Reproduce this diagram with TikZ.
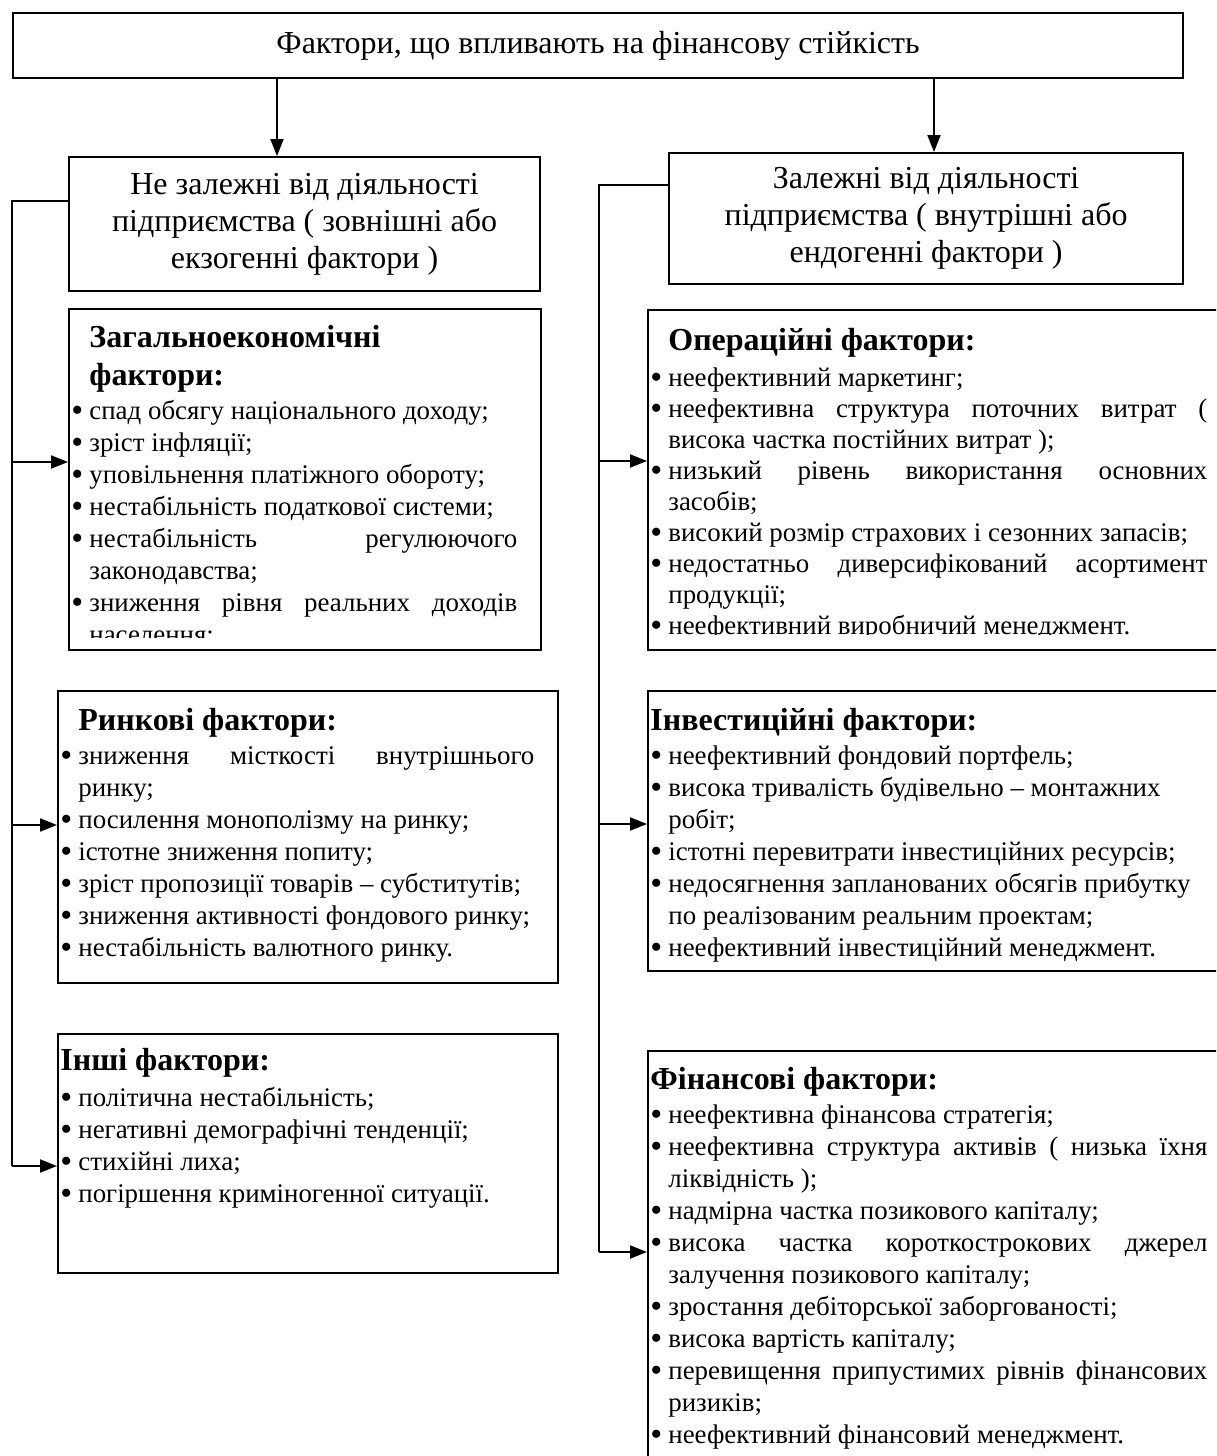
\documentclass[tikz,border=0pt]{standalone}
\usepackage{fontspec}
\setmainfont{Liberation Serif}
\usetikzlibrary{positioning,arrows.meta}

\hyphenpenalty=10000
\exhyphenpenalty=10000
\tolerance=9999
\newcommand{\itm}{\par\noindent\hangindent=9pt\hangafter=1\makebox[9pt][l]{\raisebox{-0.8pt}{\fontsize{17}{16}\selectfont\textbullet}}\ignorespaces}
\newcommand{\hd}[3][1pt]{{\raggedright\leftskip=#2\fontsize{16}{19}\selectfont\bfseries #3\par}\vspace{#1}}

\begin{document}
\begin{tikzpicture}[x=0.5pt, y=-0.5pt,
  frame/.style={draw, line width=1.1pt, anchor=north west, inner sep=0pt, align=center},
  list/.style={anchor=base west, inner sep=0pt, text width=#1, align=justify, font=\fontsize{13.45}{16}\selectfont},
  link/.style={line width=1pt},
  arr/.style={line width=1pt, -{Triangle[length=8.5pt, width=6.5pt]}}]
\useasboundingbox (0,0) rectangle (1216,1456);
\clip (0,0) rectangle (1216,1456);

\node[frame, minimum width=585pt, minimum height=32.5pt, font=\fontsize{16}{19}\selectfont] (root) at (12,12) {Фактори, що впливають на фінансову стійкість};
\node[frame, minimum width=235.5pt, minimum height=67pt, font=\fontsize{16}{18.5}\selectfont] (ext) at (68,156) {Не залежні від діяльності\\підприємства ( зовнішні або\\екзогенні фактори )};
\node[frame, minimum width=257pt, minimum height=65.5pt, font=\fontsize{16}{18.5}\selectfont] (int) at (668,152) {Залежні від діяльності\\підприємства ( внутрішні або\\ендогенні фактори )};

\node[frame, minimum width=236pt, minimum height=170.5pt] (gen) at (68,308) {};
\node[frame, minimum width=296.5pt, minimum height=170pt] (oper) at (647,309) {};
\node[frame, minimum width=250pt, minimum height=146pt] (mkt) at (57,690) {};
\node[frame, minimum width=296.5pt, minimum height=140pt] (inv) at (647,690) {};
\node[frame, minimum width=250pt, minimum height=119.5pt] (oth) at (57,1033) {};
\node[frame, minimum width=296.5pt, minimum height=215pt] (fin) at (647,1050) {};

\begin{scope}
\clip (gen.north west) rectangle (540,637);
\node[list=223pt] (gentxt) at (71,347.5) {\hd{9pt}{Загальноекономічні\\фактори:}
\itm спад обсягу національного доходу;
\itm зріст інфляції;
\itm уповільнення платіжного обороту;
\itm нестабільність податкової системи;
\itm нестабільність регулюючого\break законодавства;
\itm зниження рівня реальних доходів\break населення;\par};
\end{scope}
\begin{scope}
\clip (oper.north west) rectangle (1216,634);
\node[list=278.5pt, font=\fontsize{13.45}{15.5}\selectfont] (opertxt) at (650,350.5) {\hd[2.5pt]{9pt}{Операційні фактори:}
\itm неефективний маркетинг;
\itm неефективна структура поточних витрат (\break висока частка постійних витрат );
\itm низький рівень використання основних\break засобів;
\itm високий розмір страхових і сезонних запасів;
\itm недостатньо диверсифікований асортимент\break продукції;
\itm неефективний виробничий менеджмент.\par};
\end{scope}
\node[list=237pt] (mkttxt) at (60,730.5) {\hd{9pt}{Ринкові фактори:}
\itm зниження місткості внутрішнього\break ринку;
\itm посилення монополізму на ринку;
\itm істотне зниження попиту;
\itm зріст пропозиції товарів – субститутів;
\itm зниження активності фондового ринку;
\itm нестабільність валютного ринку.\par};
\node[list=278.5pt, align=flush left] (invtxt) at (650,730.5) {\hd{0pt}{Інвестиційні фактори:}
\itm неефективний фондовий портфель;
\itm висока тривалість будівельно – монтажних\hfil\break робіт;
\itm істотні перевитрати інвестиційних ресурсів;
\itm недосягнення запланованих обсягів прибутку\hfil\break по реалізованим реальним проектам;
\itm неефективний інвестиційний менеджмент.\par};
\node[list=237pt, align=flush left] (othtxt) at (60,1070.5) {\hd[2pt]{0pt}{Інші фактори:}
\itm політична нестабільність;
\itm негативні демографічні тенденції;
\itm стихійні лиха;
\itm погіршення криміногенної ситуації.\par};
\node[list=278.5pt] (fintxt) at (650,1089.5) {\hd{0pt}{Фінансові фактори:}
\itm неефективна фінансова стратегія;
\itm неефективна структура активів ( низька їхня\break ліквідність );
\itm надмірна частка позикового капіталу;
\itm висока частка короткострокових джерел\break залучення позикового капіталу;
\itm зростання дебіторської заборгованості;
\itm висока вартість капіталу;
\itm перевищення припустимих рівнів фінансових\break ризиків;
\itm неефективний фінансовий менеджмент.\par};

\coordinate (t1) at (277,0);
\coordinate (t2) at (934,0);
\draw[arr] (t1 |- root.south) -- (t1 |- ext.north);
\draw[arr] (t2 |- root.south) -- (t2 |- int.north);

\coordinate (lt) at (12,201);
\coordinate (l1) at (12,462);
\coordinate (l2) at (12,825);
\coordinate (l3) at (12,1166);
\draw[link] (ext.west |- lt) -- (lt) -- (l3);
\draw[arr] (l1) -- (l1 -| gen.west);
\draw[arr] (l2) -- (l2 -| mkt.west);
\draw[arr] (l3) -- (l3 -| oth.west);

\coordinate (rt) at (599,185);
\coordinate (r1) at (599,461);
\coordinate (r2) at (599,824);
\coordinate (r3) at (599,1252);
\draw[link] (int.west |- rt) -- (rt) -- (r3);
\draw[arr] (r1) -- (r1 -| oper.west);
\draw[arr] (r2) -- (r2 -| inv.west);
\draw[arr] (r3) -- (r3 -| fin.west);
\end{tikzpicture}
\end{document}
